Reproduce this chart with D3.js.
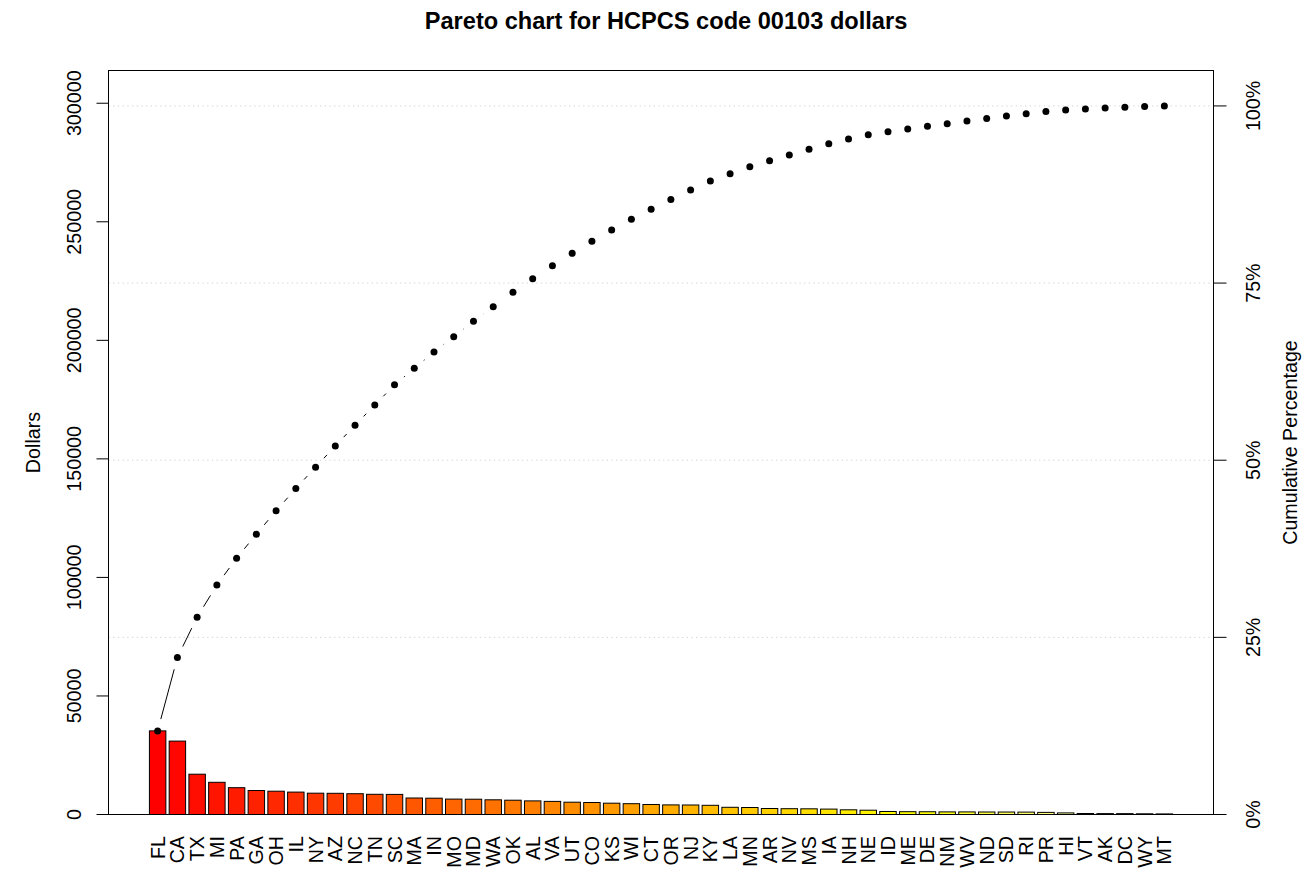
<!DOCTYPE html>
<html>
<head>
<meta charset="utf-8">
<script src="https://cdn.jsdelivr.net/npm/d3@7"></script>
<style>
  body { margin: 0; background: #ffffff; }
  svg { display: block; }
  text { font-family: "Liberation Sans", Arial, Helvetica, sans-serif; }
</style>
</head>
<body>
<svg id="chart" width="1316" height="876"></svg>
<script>
// ---- data ----
const states = ["FL","CA","TX","MI","PA","GA","OH","IL","NY","AZ","NC","TN","SC","MA","IN","MO","MD","WA","OK","AL","VA","UT","CO","KS","WI","CT","OR","NJ","KY","LA","MN","AR","NV","MS","IA","NH","NE","ID","ME","DE","NM","WV","ND","SD","RI","PR","HI","VT","AK","DC","WY","MT"];
const dollars = [35270,30960,17000,13580,11310,10120,9830,9450,8990,8940,8770,8520,8480,6960,6880,6500,6450,6200,6030,5740,5530,5190,5060,4770,4560,4220,4050,4010,3880,3040,2950,2530,2450,2400,2280,1980,1810,1270,1180,1160,1100,1090,1050,1040,1010,890,670,420,380,370,300,250];
const dollarTicks = [0,50000,100000,150000,200000,250000,300000];
const pctTicks = [0,25,50,75,100];
const pctTickLabels = ["0%","25%","50%","75%","100%"];
const titleText = "Pareto chart for HCPCS code 00103 dollars";
const yTitle = "Dollars";
const y2Title = "Cumulative Percentage";

// ---- layout ----
const L = 108.5, R = 1213.5, T = 70.5, B = 814.5;
const FS = 19.7;
const svg = d3.select("#chart");

const total = d3.sum(dollars);
const cum = Array.from(d3.cumsum(dollars));

const x = d3.scaleBand().domain(states).range([L, R])
  .paddingInner(1/6).paddingOuter(2.0733).align(0.5);
const y = d3.scaleLinear().domain([0, total * 1.05]).range([B, T]);
const yp = d3.scaleLinear().domain([0, 105]).range([B, T]);

// heat.colors(n) as in R
function heatColors(n) {
  const j = Math.floor(n / 4), i = n - j, out = [];
  for (let k = 0; k < i; k++) {
    const g = i > 1 ? Math.round(255 * k / (i - 1)) : 0;
    out.push(`rgb(255,${g},0)`);
  }
  for (let k = 0; k < j; k++) {
    const s = j > 1 ? (1 - 1/(2*j)) + k * ((1/(2*j)) - (1 - 1/(2*j))) / (j - 1) : 0.5;
    out.push(`rgb(255,255,${Math.round(255 * (1 - s))})`);
  }
  return out;
}
const cols = heatColors(states.length);

// grid lines
svg.append("g").selectAll("line").data(pctTicks.filter(d => d > 0)).join("line")
  .attr("x1", L).attr("x2", R)
  .attr("y1", d => yp(d)).attr("y2", d => yp(d))
  .attr("stroke", "#d3d3d3").attr("stroke-width", 1)
  .attr("stroke-dasharray", "1.3,3.4");

// bars
svg.append("g").selectAll("rect").data(states).join("rect")
  .attr("x", d => x(d))
  .attr("width", x.bandwidth())
  .attr("y", (d, i) => y(dollars[i]))
  .attr("height", (d, i) => B - y(dollars[i]))
  .attr("fill", (d, i) => cols[i])
  .attr("stroke", "#000").attr("stroke-width", 1);

// cumulative line (type "b": gaps around points)
const pts = states.map((s, i) => [x(s) + x.bandwidth() / 2, y(cum[i])]);
const gap = 12.2;
const segs = [];
for (let i = 0; i < pts.length - 1; i++) {
  const [x1, y1] = pts[i], [x2, y2] = pts[i + 1];
  const dx = x2 - x1, dy = y2 - y1, len = Math.hypot(dx, dy);
  if (len > 2 * gap) {
    const ux = dx / len, uy = dy / len;
    segs.push([x1 + ux * gap, y1 + uy * gap, x2 - ux * gap, y2 - uy * gap]);
  }
}
svg.append("g").selectAll("line").data(segs).join("line")
  .attr("x1", d => d[0]).attr("y1", d => d[1])
  .attr("x2", d => d[2]).attr("y2", d => d[3])
  .attr("stroke", "#000").attr("stroke-width", 1);

svg.append("g").selectAll("circle").data(pts).join("circle")
  .attr("cx", d => d[0]).attr("cy", d => d[1]).attr("r", 3.5)
  .attr("fill", "#000");

// box
svg.append("rect").attr("x", L).attr("y", T).attr("width", R - L).attr("height", B - T)
  .attr("fill", "none").attr("stroke", "#000").attr("stroke-width", 1);

// left axis
const gl = svg.append("g").attr("transform", `translate(${L},0)`)
  .call(d3.axisLeft(y).tickValues(dollarTicks).tickFormat(d3.format("d")).tickSize(12).offset(0));
gl.select(".domain").remove();
gl.selectAll("text")
  .attr("transform", "rotate(-90)")
  .attr("x", 0).attr("y", -28).attr("dy", null)
  .attr("text-anchor", "middle")
  .attr("font-size", FS).attr("fill", "#000");
gl.attr("font-family", null).attr("font-size", null);

// right axis
const gr = svg.append("g").attr("transform", `translate(${R},0)`)
  .call(d3.axisRight(yp).tickValues(pctTicks).tickFormat((d, i) => pctTickLabels[i]).tickSize(13).offset(0));
gr.select(".domain").remove();
gr.selectAll("text")
  .attr("transform", "rotate(-90)")
  .attr("x", 0).attr("y", 46.5).attr("dy", null)
  .attr("text-anchor", "middle")
  .attr("font-size", FS).attr("fill", "#000");
gr.attr("font-family", null).attr("font-size", null);

// x category labels
svg.append("g").selectAll("text").data(states).join("text")
  .attr("transform", d => `translate(${x(d) + x.bandwidth() / 2 + 7},836) rotate(-90)`)
  .attr("text-anchor", "end")
  .attr("font-size", FS)
  .text(d => d);

// axis titles
svg.append("text")
  .attr("transform", `translate(40,${(T + B) / 2}) rotate(-90)`)
  .attr("text-anchor", "middle").attr("font-size", FS).text(yTitle);
svg.append("text")
  .attr("transform", `translate(1297,${(T + B) / 2}) rotate(-90)`)
  .attr("text-anchor", "middle").attr("font-size", FS).text(y2Title);

// title
svg.append("text")
  .attr("x", 666).attr("y", 29)
  .attr("text-anchor", "middle").attr("font-size", 23.6).attr("font-weight", "bold")
  .text(titleText);
</script>
</body>
</html>
